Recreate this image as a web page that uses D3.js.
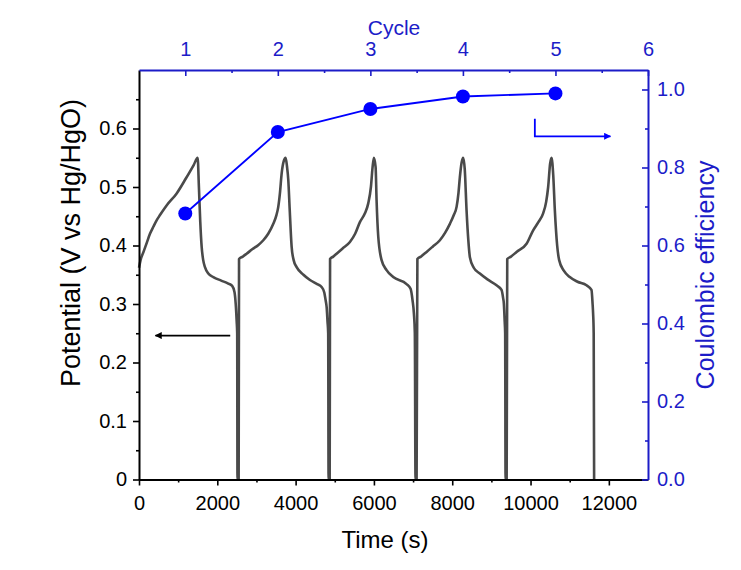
<!DOCTYPE html>
<html>
<head>
<meta charset="utf-8">
<script src="https://cdn.jsdelivr.net/npm/d3@7"></script>
<style>
  body { margin: 0; background: #fff; }
  svg { display: block; font-family: Arial, "Liberation Sans", sans-serif; }
</style>
</head>
<body>
<svg width="741" height="570"></svg>
<script>
// galvanostatic charge/discharge curve, [time s, potential V]
let cycle1 = [
  [0, 0.362], [40, 0.375], [120, 0.39], [200, 0.405], [280, 0.42], [366, 0.432],
  [450, 0.443], [536, 0.452], [700, 0.468], [962, 0.489], [1200, 0.515], [1400, 0.538],
  [1498, 0.55], [1530, 0.5], [1565, 0.44], [1600, 0.398], [1640, 0.375], [1685, 0.363],
  [1770, 0.352], [1898, 0.346], [2100, 0.34], [2280, 0.335], [2380, 0.331], [2440, 0.32],
  [2470, 0.3], [2495, 0.27], [2508, 0.25], [2515, 0]
]
let cycle2 = [
  [2545, 0], [2555, 0.377], [2650, 0.381], [2749, 0.386], [2900, 0.394], [3050, 0.401],
  [3175, 0.409], [3300, 0.42], [3430, 0.437], [3510, 0.452], [3557, 0.466], [3600, 0.49],
  [3643, 0.523], [3700, 0.545], [3745, 0.55], [3780, 0.535], [3813, 0.512], [3850, 0.46],
  [3898, 0.398], [3950, 0.375], [4026, 0.363], [4200, 0.35], [4366, 0.341], [4550, 0.334],
  [4664, 0.329], [4730, 0.32], [4770, 0.305], [4792, 0.295], [4815, 0.27], [4832, 0.25],
  [4842, 0]
]
let cycle3 = [
  [4870, 0], [4880, 0.377], [4960, 0.381], [5047, 0.386], [5200, 0.395], [5387, 0.406],
  [5520, 0.42], [5642, 0.44], [5770, 0.455], [5855, 0.472], [5923, 0.5], [5966, 0.534],
  [6000, 0.55], [6043, 0.534], [6068, 0.477], [6111, 0.415], [6196, 0.375], [6323, 0.358],
  [6493, 0.346], [6834, 0.334], [6936, 0.326], [6987, 0.306], [7021, 0.284], [7045, 0.25],
  [7062, 0]
]
let cycle4 = [
  [7090, 0], [7110, 0.377], [7200, 0.381], [7345, 0.389], [7500, 0.398], [7685, 0.409],
  [7820, 0.422], [7940, 0.437], [8040, 0.452], [8111, 0.466], [8160, 0.49], [8195, 0.517],
  [8240, 0.542], [8280, 0.55], [8320, 0.53], [8366, 0.46], [8410, 0.41], [8451, 0.38],
  [8550, 0.362], [8706, 0.352], [8900, 0.342], [9132, 0.332], [9259, 0.324], [9300, 0.31],
  [9318, 0.301], [9340, 0.27], [9352, 0.25], [9362, 0]
]
let cycle5 = [
  [9390, 0], [9405, 0.377], [9500, 0.381], [9643, 0.389], [9898, 0.403], [10067, 0.426],
  [10200, 0.44], [10322, 0.455], [10400, 0.475], [10450, 0.5], [10500, 0.54], [10536, 0.55],
  [10580, 0.52], [10621, 0.46], [10680, 0.4], [10731, 0.375], [10850, 0.357], [11003, 0.346],
  [11200, 0.338], [11429, 0.332], [11556, 0.324], [11585, 0.3], [11598, 0.284], [11613, 0.25],
  [11624, 0]
]

// coulombic efficiency per cycle
let cycles = [1, 2, 3, 4, 5]
let efficiency = [0.682, 0.891, 0.95, 0.982, 0.99]

// ticks
let timeTicks = [0, 2000, 4000, 6000, 8000, 10000, 12000]
let timeMinor = [1000, 3000, 5000, 7000, 9000, 11000]
let potentialTicks = [0, 0.1, 0.2, 0.3, 0.4, 0.5, 0.6]
let potentialLabels = ['0', '0.1', '0.2', '0.3', '0.4', '0.5', '0.6']
let potentialMinor = [0.05, 0.15, 0.25, 0.35, 0.45, 0.55, 0.65]
let effTicks = [0, 0.2, 0.4, 0.6, 0.8, 1.0]
let effLabels = ['0.0', '0.2', '0.4', '0.6', '0.8', '1.0']
let effMinor = [0.1, 0.3, 0.5, 0.7, 0.9]
let cycleTicks = [1, 2, 3, 4, 5, 6]
let cycleMinor = [1.5, 2.5, 3.5, 4.5, 5.5]

let blue = '#1c1cc8'
let svg = d3.select('svg')
let margin = { top: 70, right: 93, bottom: 90.5, left: 139 }
let width = 741 - margin.left - margin.right
let height = 570 - margin.top - margin.bottom

let x = d3.scaleLinear().domain([0, 13000]).range([0, width])
let y = d3.scaleLinear().domain([0, 0.7]).range([height, 0])
let xTop = d3.scaleLinear().domain([0.5, 6]).range([0, width])
let yRight = d3.scaleLinear().domain([0, 1.05]).range([height, 0])

let g = svg.append('g').attr('transform', `translate(${margin.left},${margin.top})`)

// potential curve
let line = d3.line()
  .x(d => x(d[0]))
  .y(d => y(d[1]))
  .curve(d3.curveMonotoneX)

let curve = cycle1.concat(cycle2, cycle3, cycle4, cycle5)
g.append('path')
  .datum(curve)
  .attr('fill', 'none')
  .attr('stroke', '#4a4a4a')
  .attr('stroke-width', 2.6)
  .attr('stroke-linejoin', 'round')
  .attr('d', line)

// efficiency points
let eff = cycles.map((c, i) => ({ c: c, v: efficiency[i] }))
g.append('path')
  .datum(eff)
  .attr('fill', 'none')
  .attr('stroke', '#0000ff')
  .attr('stroke-width', 1.8)
  .attr('d', d3.line().x(d => xTop(d.c)).y(d => yRight(d.v)))

g.selectAll('circle')
  .data(eff)
  .enter()
  .append('circle')
  .attr('cx', d => xTop(d.c))
  .attr('cy', d => yRight(d.v))
  .attr('r', 7)
  .attr('fill', '#0000ff')

// arrows
let defs = svg.append('defs')
function head(id, color) {
  defs.append('marker')
    .attr('id', id)
    .attr('viewBox', '0 0 10 10')
    .attr('refX', 9)
    .attr('refY', 5)
    .attr('markerWidth', 14)
    .attr('markerHeight', 7)
    .attr('markerUnits', 'userSpaceOnUse')
    .attr('orient', 'auto')
    .append('path')
    .attr('d', 'M0,0L10,5L0,10Z')
    .attr('fill', color)
}
head('hk', '#000')
head('hb', '#0000ff')

g.append('path')
  .attr('d', `M${x(2330)},${y(0.246)}H${x(420)}`)
  .attr('stroke', '#000')
  .attr('stroke-width', 1.6)
  .attr('fill', 'none')
  .attr('marker-end', 'url(#hk)')

g.append('path')
  .attr('d', `M${x(10110)},${yRight(0.925)}V${yRight(0.88)}H${x(12040)}`)
  .attr('stroke', '#0000ff')
  .attr('stroke-width', 1.8)
  .attr('fill', 'none')
  .attr('marker-end', 'url(#hb)')

// axes
function styleAxis(sel, color) {
  sel.select('.domain').attr('stroke', color).attr('stroke-width', 2)
  sel.selectAll('.tick line').attr('stroke', color).attr('stroke-width', 1.6)
  sel.selectAll('text')
    .attr('fill', color)
    .style('font-size', '20px')
    .style('font-family', 'Arial, "Liberation Sans", sans-serif')
}

function minor(axis, values, color) {
  let a = g.append('g').call(axis.tickValues(values).tickFormat(''))
  a.select('.domain').remove()
  a.selectAll('.tick line').attr('stroke', color).attr('stroke-width', 1.6)
  return a
}

let axBottom = g.append('g')
  .attr('transform', `translate(0,${height})`)
  .call(d3.axisBottom(x).tickValues(timeTicks).tickFormat(d3.format('d'))
    .tickSizeInner(6).tickSizeOuter(0).tickPadding(10))
styleAxis(axBottom, '#000')
minor(d3.axisBottom(x).tickSize(3), timeMinor, '#000').attr('transform', `translate(0,${height})`)

let axLeft = g.append('g')
  .call(d3.axisLeft(y).tickValues(potentialTicks).tickFormat((d, i) => potentialLabels[i])
    .tickSizeInner(6).tickSizeOuter(0).tickPadding(6))
styleAxis(axLeft, '#000')
minor(d3.axisLeft(y).tickSize(3), potentialMinor, '#000')

let axTop = g.append('g')
  .call(d3.axisTop(xTop).tickValues(cycleTicks).tickFormat(d3.format('d'))
    .tickSizeInner(-6).tickSizeOuter(0).tickPadding(14))
styleAxis(axTop, blue)
minor(d3.axisTop(xTop).tickSize(-3), cycleMinor, blue)

let axRight = g.append('g')
  .attr('transform', `translate(${width},0)`)
  .call(d3.axisRight(yRight).tickValues(effTicks).tickFormat((d, i) => effLabels[i])
    .tickSizeInner(-6).tickSizeOuter(0).tickPadding(9))
styleAxis(axRight, blue)
minor(d3.axisRight(yRight).tickSize(-3), effMinor, blue).attr('transform', `translate(${width},0)`)

// titles
svg.append('text')
  .attr('x', 385)
  .attr('y', 548)
  .attr('text-anchor', 'middle')
  .style('font-size', '24px')
  .text('Time (s)')

svg.append('text')
  .attr('transform', 'translate(80,243) rotate(-90)')
  .attr('text-anchor', 'middle')
  .style('font-size', '27px')
  .text('Potential (V vs Hg/HgO)')

svg.append('text')
  .attr('transform', 'translate(714,275) rotate(-90)')
  .attr('text-anchor', 'middle')
  .attr('fill', blue)
  .style('font-size', '25px')
  .text('Coulombic efficiency')

svg.append('text')
  .attr('x', 394)
  .attr('y', 35)
  .attr('text-anchor', 'middle')
  .attr('fill', blue)
  .style('font-size', '21px')
  .text('Cycle')
</script>
</body>
</html>
